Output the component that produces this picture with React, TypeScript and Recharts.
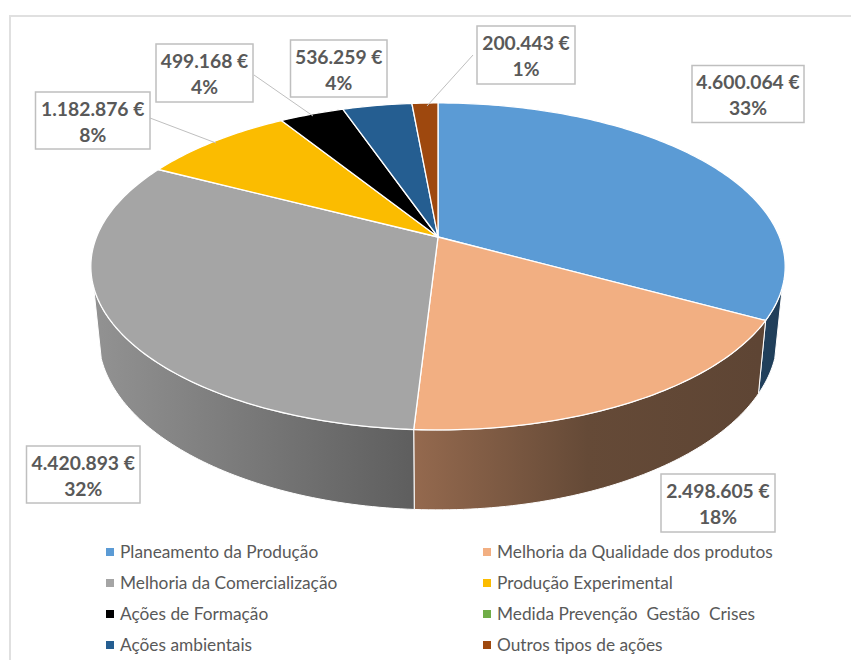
import { PieChart, Pie, Legend } from "recharts"

const names = [
  "Planeamento da Produção",
  "Melhoria da Qualidade dos produtos",
  "Melhoria da Comercialização",
  "Produção Experimental",
  "Ações de Formação",
  "Medida Prevenção  Gestão  Crises",
  "Ações ambientais",
  "Outros tipos de ações",
]
const values = [4600064, 2498605, 4420893, 1182876, 499168, 0, 536259, 200443]
const colors = ["#5B9BD5", "#F2AF82", "#A5A5A5", "#FBBC00", "#000000", "#70AD47", "#255E91", "#9E480E"]

const data = names.map((name, i) => ({ name, value: values[i], fill: colors[i] }))

// label boxes: x, y, width, height
const labelBoxes = [
  [692, 65.5, 112, 57],
  [661, 474, 114, 58],
  [26.5, 446, 113.5, 57],
  [35.5, 92, 114.5, 57],
  [156, 44, 97, 58],
  null,
  [290.5, 40, 96.5, 57],
  [477, 26, 98, 58],
]
const leaders = [null, null, null, [150, 118, 216, 143], [254, 75, 313, 116], null, null, [473, 55, 427, 106]]

// perspective of the tilted disc
const K = 0.18
const TOP = { a: 158.2, b: 341.5, dy: 0 }
const BOTTOM = { a: 168, b: 334, dy: 68 }
const FRONT_MAX = -17.5
const FRONT_MIN = -162.5

const project = (cx: number, cy: number, deg: number, disc = TOP) => {
  const rad = (deg * Math.PI) / 180
  const u = Math.cos(rad)
  const v = -Math.sin(rad)
  const w = 1 - K * v
  return [cx + (disc.b * u) / w, cy + disc.dy + (disc.a * v) / w]
}

const arc = (cx: number, cy: number, from: number, to: number, disc = TOP) => {
  const steps = Math.max(1, Math.ceil(Math.abs(to - from)))
  const pts = []
  for (let i = 0; i <= steps; i++) {
    pts.push(project(cx, cy, from + ((to - from) * i) / steps, disc))
  }
  return pts
}

const toPath = (pts: number[][]) =>
  pts.map((p, i) => `${i ? "L" : "M"}${p[0].toFixed(2)} ${p[1].toFixed(2)}`).join(" ") + " Z"

function TopSlice(props: any) {
  const { cx, cy, startAngle, endAngle, fill } = props
  if (Math.abs(endAngle - startAngle) < 0.01) return null
  const d = toPath([[cx, cy], ...arc(cx, cy, startAngle, endAngle)])
  return <path d={d} fill={fill} stroke="#ffffff" strokeWidth={1.3} strokeLinejoin="round" />
}

function WallSlice(props: any) {
  const { cx, cy, startAngle, endAngle, index } = props
  const hi = Math.min(Math.max(startAngle, endAngle), FRONT_MAX)
  const lo = Math.max(Math.min(startAngle, endAngle), FRONT_MIN)
  if (hi <= lo) return null
  const d = toPath([...arc(cx, cy, hi, lo), ...arc(cx, cy, lo, hi, BOTTOM)])
  return <path d={d} fill={`url(#wall-${index})`} stroke="#ffffff" strokeWidth={1} strokeLinejoin="round" />
}

function SliceLabel(props: any) {
  const { index, value, percent } = props
  const box = labelBoxes[index]
  if (!box || !value) return null
  const [x, y, w, h] = box
  const line = leaders[index]
  return (
    <g>
      {line && <line x1={line[0]} y1={line[1]} x2={line[2]} y2={line[3]} stroke="#BFBFBF" strokeWidth={1} />}
      <rect x={x} y={y} width={w} height={h} fill="#ffffff" stroke="#BFBFBF" strokeWidth={1.5} />
      <text
        x={x + w / 2}
        textAnchor="middle"
        fontFamily="Lato"
        fontWeight={700}
        fontSize={19.3}
        fill="#595959"
      >
        <tspan x={x + w / 2} y={y + 23.5}>
          {value.toLocaleString("de-DE")} €
        </tspan>
        <tspan x={x + w / 2} y={y + 49.5}>
          {Math.round(percent * 100)}%
        </tspan>
      </text>
    </g>
  )
}

function LegendGrid(props: any) {
  const payload = props.payload || []
  // payload comes sorted and once per Pie: back to data order, one entry per name
  const items = names.map((name) => payload.find((item: any) => item.value === name)).filter(Boolean)
  return (
    <div
      style={{
        position: "absolute",
        left: 106,
        top: 536,
        width: 745,
        display: "grid",
        gridTemplateColumns: "377px 1fr",
        gridAutoRows: "31px",
        fontFamily: "Lato",
        fontSize: 17.3,
        color: "#595959",
      }}
    >
      {items.map((item: any) => (
        <div key={item.value} style={{ display: "flex", alignItems: "center", whiteSpace: "pre" }}>
          <span style={{ width: 8, height: 8, marginRight: 6, background: item.color }} />
          {item.value}
        </div>
      ))}
    </div>
  )
}

export default function App() {
  return (
    <div style={{ position: "absolute", left: 0, top: 0, width: 851, height: 660, background: "#fff", overflow: "hidden" }}>
      <div
        style={{
          position: "absolute",
          left: 9,
          top: 15,
          right: 0,
          bottom: 0,
          borderTop: "2px solid #E0E0E0",
          borderLeft: "2px solid #E0E0E0",
        }}
      />
      <div style={{ position: "absolute", left: 0, top: 0 }}>
        <PieChart width={851} height={660} margin={{ top: 0, right: 0, bottom: 0, left: 0 }}>
          <defs>
            <linearGradient id="wall-0" gradientUnits="userSpaceOnUse" x1="760" y1="0" x2="785" y2="0">
              <stop offset="0%" stopColor="#21405C" />
              <stop offset="100%" stopColor="#1F3D58" />
            </linearGradient>
            <linearGradient id="wall-1" gradientUnits="userSpaceOnUse" x1="415" y1="0" x2="760" y2="0">
              <stop offset="0%" stopColor="#94694E" />
              <stop offset="50%" stopColor="#654A37" />
              <stop offset="100%" stopColor="#5E4534" />
            </linearGradient>
            <linearGradient id="wall-2" gradientUnits="userSpaceOnUse" x1="95" y1="0" x2="415" y2="0">
              <stop offset="0%" stopColor="#929292" />
              <stop offset="100%" stopColor="#5E5E5E" />
            </linearGradient>
          </defs>
          <Pie
            data={data}
            dataKey="value"
            nameKey="name"
            cx={438}
            cy={237}
            outerRadius={340}
            startAngle={90}
            endAngle={-270}
            legendType="none"
            shape={WallSlice}
            inactiveShape={WallSlice}
            isAnimationActive={false}
          />
          <Pie
            data={data}
            dataKey="value"
            nameKey="name"
            cx={438}
            cy={237}
            outerRadius={340}
            startAngle={90}
            endAngle={-270}
            shape={TopSlice}
            inactiveShape={TopSlice}
            label={SliceLabel}
            labelLine={false}
            isAnimationActive={false}
          />
          <Legend content={LegendGrid} wrapperStyle={{ position: "absolute", left: 0, top: 0, width: 851, height: 0 }} />
        </PieChart>
      </div>
    </div>
  )
}
